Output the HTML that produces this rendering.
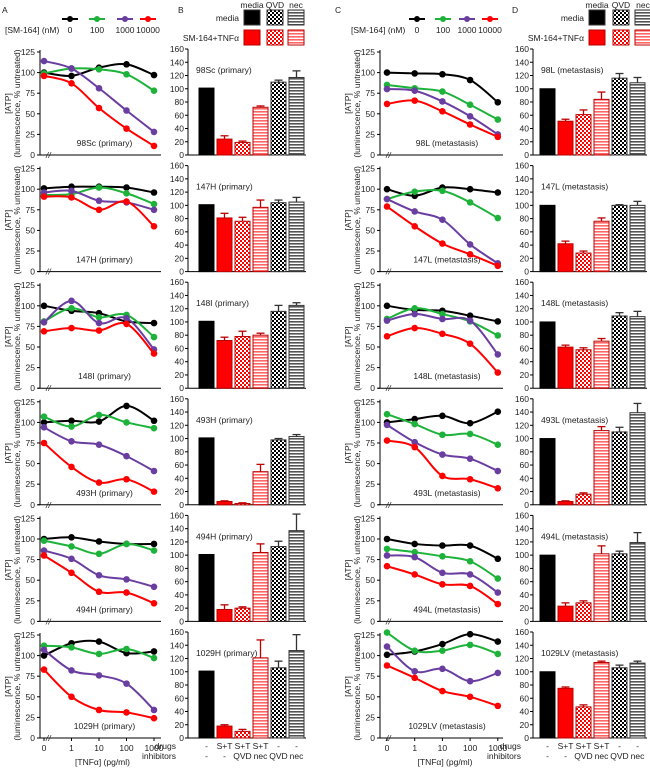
<!DOCTYPE html>
<html><head><meta charset="utf-8"><style>
html,body{margin:0;padding:0;background:#fff;}
svg{display:block;font-family:"Liberation Sans",sans-serif;}
text{font-size:8.5px;fill:#222;}
</style></head><body>
<svg id="fig" width="650" height="771" viewBox="0 0 650 771" xmlns="http://www.w3.org/2000/svg">
<defs>
<pattern id="chkR" width="4" height="4" patternUnits="userSpaceOnUse"><rect width="4" height="4" fill="#fff"/><rect width="2" height="2" fill="#f00"/><rect x="2" y="2" width="2" height="2" fill="#f00"/></pattern>
<pattern id="chkK" width="4" height="4" patternUnits="userSpaceOnUse"><rect width="4" height="4" fill="#fff"/><rect width="2" height="2" fill="#000"/><rect x="2" y="2" width="2" height="2" fill="#000"/></pattern>
<pattern id="strR" width="4" height="3" patternUnits="userSpaceOnUse"><rect width="4" height="3" fill="#fff"/><rect width="4" height="1.6" fill="#f66"/></pattern>
<pattern id="strK" width="4" height="3" patternUnits="userSpaceOnUse"><rect width="4" height="3" fill="#fff"/><rect width="4" height="1.6" fill="#555"/></pattern>
</defs>
</svg>
<script>
const xCats=['0','1','10','100','1000'];
const seriesNames=['0','100','1000','10000'];
const seriesColors=['#000','#1db33a','#6a3ea1','#f00'];
const yTicksLine=[0,25,50,75,100,125];
const yTicksBar=[0,20,40,60,80,100,120,140,160];
const barFills=['#000','#f00','url(#chkR)','url(#strR)','url(#chkK)','url(#strK)'];
const drugsRow=['-','S+T','S+T','S+T','-','-'];
const inhRow=['-','-','QVD','nec','QVD','nec'];
const labelsA=['98Sc (primary)','147H (primary)','148I (primary)','493H (primary)','494H (primary)','1029H (primary)'];
const labelsC=['98L (metastasis)','147L (metastasis)','148L (metastasis)','493L (metastasis)','494L (metastasis)','1029LV (metastasis)'];
const A_black=[[100,96,106,110,97],[101,103,103,102,96],[100,94,91,81,79],[100,102,101,120,102],[100,102,97,94,94],[100,115,117,103,105]];
const A_green=[[99,105,104,98,78],[93,94,102,95,82],[81,97,86,89,62],[107,95,109,100,93],[98,91,82,94,86],[112,110,102,108,97]];
const A_purple=[[114,105,81,54,28],[96,98,86,84,75],[80,106,79,85,47],[94,77,73,59,41],[86,76,56,51,42],[107,82,76,66,34]];
const A_red=[[96,87,57,32,11],[91,90,75,85,55],[69,73,70,78,42],[75,46,27,31,16],[80,59,36,35,22],[83,50,34,31,24]];
const B_vals=[[101,24,19,72,110,117],[101,81,76,97,104,105],[101,72,78,80,116,125],[101,5,2,50,98,103],[101,18,20,104,113,137],[101,18,10,121,106,132]];
const B_err=[[0,5,2,2,3,10],[0,7,6,11,4,7],[0,5,8,3,9,4],[0,1,1,11,2,3],[0,7,2,13,8,25],[0,2,3,27,10,24]];
const C_black=[[100,99,98,91,64],[100,92,102,100,96],[100,95,94,88,81],[100,104,108,99,113],[100,94,92,92,76],[101,105,114,126,117]];
const C_green=[[85,81,77,61,43],[88,97,98,84,65],[84,97,90,81,64],[110,98,85,86,73],[88,84,79,73,52],[128,106,106,113,102]];
const C_purple=[[80,78,65,47,25],[88,73,63,33,10],[82,90,84,82,41],[97,76,61,56,41],[80,78,59,57,35],[111,81,84,69,79]];
const C_red=[[62,66,53,37,22],[79,55,34,21,7],[63,73,66,54,19],[78,70,35,31,20],[67,57,45,43,21],[88,73,57,50,39]];
const D_vals=[[100,51,61,84,116,109],[100,42,28,76,100,100],[100,62,58,71,109,108],[100,5,16,112,110,139],[100,23,28,102,102,119],[100,75,47,114,106,113]];
const D_err=[[0,3,7,11,7,8],[0,4,3,5,1,6],[0,3,3,4,5,8],[0,1,2,6,7,14],[0,5,3,12,4,15],[0,2,3,2,4,3]];

const svg=document.getElementById('fig');
const NS='http://www.w3.org/2000/svg';
function el(tag,attrs,parent,txt){const e=document.createElementNS(NS,tag);for(const k in attrs)e.setAttribute(k,attrs[k]);if(txt!==undefined)e.textContent=txt;(parent||svg).appendChild(e);return e;}
function rowBase(i){return 155+i*116.6;}

function linePanel(cfg,i,data,label){
  const g=el('g',{});
  
  
  const y0=rowBase(i), h=103;
  const ys=v=>y0-v/125*h;
  const xs=k=>cfg.x0+k*cfg.dx;
  el('line',{x1:cfg.ax,y1:y0-h-2,x2:cfg.ax,y2:y0,stroke:'#000','stroke-width':1},g);
  el('line',{x1:cfg.ax-2,y1:y0,x2:cfg.xend,y2:y0,stroke:'#000','stroke-width':1},g);
  const br=el('text',{x:cfg.ax+6,y:y0+3,'font-size':9,'font-style':'italic'},g,'//');
  
  
  yTicksLine.forEach(t=>{el('line',{x1:cfg.ax-3,y1:ys(t),x2:cfg.ax,y2:ys(t),stroke:'#000'},g);
    const tt=el('text',{x:cfg.ax-5,y:ys(t)+3,'text-anchor':'end'},g,String(t));
    
    });
  const t1=el('text',{x:cfg.ax-29,y:y0-h/2,'text-anchor':'middle','font-size':8,transform:`rotate(-90 ${cfg.ax-29} ${y0-h/2})`},g,'[ATP]');
  
  
  const t2=el('text',{x:cfg.ax-20,y:y0-h/2,'text-anchor':'middle','font-size':8,transform:`rotate(-90 ${cfg.ax-20} ${y0-h/2})`},g,'(luminescence, % untreated)');
  
  
  const lb=el('text',{x:(cfg.x0+cfg.xend)/2+2,y:y0-9,'text-anchor':'middle'},g,label);
  
  
  data.forEach((s,si)=>{
    const pts=s.map((v,k)=>[xs(k),ys(v)]);
    let d='M'+pts[0][0]+','+pts[0][1];
    for(let k=0;k<pts.length-1;k++){
      const p0=pts[Math.max(k-1,0)],p1=pts[k],p2=pts[k+1],p3=pts[Math.min(k+2,pts.length-1)];
      const c1=[p1[0]+(p2[0]-p0[0])/6,p1[1]+(p2[1]-p0[1])/6],c2=[p2[0]-(p3[0]-p1[0])/6,p2[1]-(p3[1]-p1[1])/6];
      d+=` C${c1[0]},${c1[1]} ${c2[0]},${c2[1]} ${p2[0]},${p2[1]}`;
    }
    const path=el('path',{d:d,fill:'none',stroke:seriesColors[si],'stroke-width':2},g);
    
    
    pts.forEach(p=>{const c=el('circle',{cx:p[0],cy:p[1],r:3.3,fill:seriesColors[si]},g);
      
      });
  });
  if(i===5){
    xCats.forEach((c,k)=>{el('line',{x1:xs(k),y1:y0,x2:xs(k),y2:y0+3,stroke:'#000'},g);
      const tt=el('text',{x:xs(k),y:y0+13,'text-anchor':'middle'},g,c);
      
      });
    const xt=el('text',{x:(cfg.x0+cfg.xend)/2,y:y0+27,'text-anchor':'middle'},g,'[TNFα] (pg/ml)');
    
    
  }
}

function barPanel(cfg,i,vals,errs,label){
  const g=el('g',{});
  
  
  const y0=rowBase(i), h=106;
  const ys=v=>y0-v/160*h;
  const xs=k=>cfg.x0+k*cfg.dx;
  el('line',{x1:cfg.ax,y1:y0-h,x2:cfg.ax,y2:y0,stroke:'#000'},g);
  el('line',{x1:cfg.ax,y1:y0,x2:xs(5)+cfg.w+2,y2:y0,stroke:'#000'},g);
  yTicksBar.forEach(t=>{el('line',{x1:cfg.ax-3,y1:ys(t),x2:cfg.ax,y2:ys(t),stroke:'#000'},g);
    const tt=el('text',{x:cfg.ax-4,y:ys(t)+3,'text-anchor':'end'},g,String(t));
    
    });
  const lb=el('text',{x:cfg.ax+8,y:y0-h+24},g,label);
  
  
  vals.forEach((v,k)=>{
    const r=el('rect',{x:xs(k),y:ys(v),width:cfg.w,height:y0-ys(v),fill:barFills[k],stroke:k===0?'#000':(k<4?'#b00':'#333'),'stroke-width':1},g);
    
    
    if(errs[k]>0){
      const cx=xs(k)+cfg.w/2, col=k>=1&&k<=3?'#b00':'#333';
      el('line',{x1:cx,y1:ys(v),x2:cx,y2:ys(v+errs[k]),stroke:col,'stroke-width':1.3},g);
      el('line',{x1:cx-4,y1:ys(v+errs[k]),x2:cx+4,y2:ys(v+errs[k]),stroke:col,'stroke-width':1.3},g);
    }
  });
  if(i===5){
    const t1=el('text',{x:cfg.ax-12,y:y0+11,'text-anchor':'end'},g,'drugs');
    
    
    const t2=el('text',{x:cfg.ax-12,y:y0+21,'text-anchor':'end'},g,'inhibitors');
    
    
    drugsRow.forEach((d,k)=>{const t=el('text',{x:xs(k)+cfg.w/2,y:y0+11,'text-anchor':'middle'},g,d);
      
      });
    inhRow.forEach((d,k)=>{const t=el('text',{x:xs(k)+cfg.w/2,y:y0+21,'text-anchor':'middle'},g,d);
      
      });
  }
}

function lineLegend(cfg){
  const g=el('g',{});
  
  
  const t=el('text',{x:cfg.lx,y:33},g,'[SM-164] (nM)');
  
  
  seriesNames.forEach((n,si)=>{
    const cx=cfg.lpos[si];
    el('line',{x1:cx-8,y1:19,x2:cx+8,y2:19,stroke:seriesColors[si],'stroke-width':2},g);
    el('circle',{cx:cx,cy:19,r:3,fill:seriesColors[si]},g);
    const tt=el('text',{x:cx,y:33,'text-anchor':'middle'},g,n);
    
    
  });
}
function barLegend(cfg){
  const g=el('g',{});
  
  
  ['media','QVD','nec'].forEach((n,k)=>{const t=el('text',{x:cfg.sq[k]+8,y:8,'text-anchor':'middle'},g,n);
    
    });
  const a=el('text',{x:cfg.sq[0]-5,y:21,'text-anchor':'end'},g,'media');
  
  
  const b=el('text',{x:cfg.sq[0]-5,y:41,'text-anchor':'end'},g,'SM-164+TNFα');
  
  
  const f1=['#000','url(#chkK)','url(#strK)'],f2=['#f00','url(#chkR)','url(#strR)'];
  cfg.sq.forEach((x,k)=>{el('rect',{x:x,y:10,width:16,height:15,fill:f1[k],stroke:'#333'},g);
    el('rect',{x:x,y:30,width:16,height:15,fill:f2[k],stroke:'#b00'},g);});
}

const cfgA={id:'panel-a',ax:40,x0:44,dx:27.5,xend:161,lx:5,lpos:[70,97,125,148]};
const cfgC={id:'panel-c',ax:380,x0:387,dx:27.7,xend:503,lx:351,lpos:[417,443,467,490]};
const cfgB={id:'panel-b',ax:188,x0:199,dx:18,w:15,sq:[244,267,288]};
const cfgD={id:'panel-d',ax:533,x0:540,dx:18,w:15,sq:[589,613,635]};

for(let i=0;i<6;i++){
  linePanel(cfgA,i,[A_black[i],A_green[i],A_purple[i],A_red[i]],labelsA[i]);
  linePanel(cfgC,i,[C_black[i],C_green[i],C_purple[i],C_red[i]],labelsC[i]);
  barPanel(cfgB,i,B_vals[i],B_err[i],labelsA[i]);
  barPanel(cfgD,i,D_vals[i],D_err[i],labelsC[i]);
}
lineLegend(cfgA);lineLegend(cfgC);barLegend(cfgB);barLegend(cfgD);
[['A',2],['B',178],['C',335],['D',512]].forEach(p=>{
  const t=el('text',{x:p[1],y:13,'font-size':14},svg,p[0]);
  
  
});
</script>
</body></html>
